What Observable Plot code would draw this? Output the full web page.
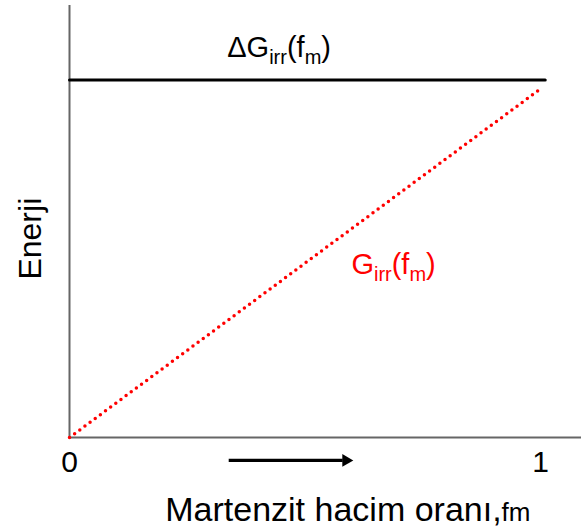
<!DOCTYPE html>
<html><head><meta charset="utf-8">
<script src="https://cdn.jsdelivr.net/npm/d3@7"></script>
<script src="https://cdn.jsdelivr.net/npm/@observablehq/plot@0.6"></script>
<style>html,body{margin:0;padding:0;background:#fff;}</style>
</head><body><div id="chart"></div>
<script>
// Data
const fm = [0, 1];                 // martensite volume fraction
const Girr = [0, 0.975];           // G_irr(f_m), red dotted
const dGfm = [0, 1.01];            // extent of ΔG_irr line
const dG = [1, 1];                 // ΔG_irr(f_m), black
const xTicks = [0, 1];
const xTickLabels = ["0", "1"];

// Annotations (data coordinates)
const noteDG = [{x: 0.445, y: 1.089, text: "ΔG_{irr}(f_{m})"}];
const noteG = [{x: 0.688, y: 0.483, text: "G_{irr}(f_{m})"}];
const xLabel = [{x: 0.591, y: -0.204, text: "Martenzit hacim oranı,~{fm}"}];
const yLabel = [{x: -0.083, y: 0.556, text: "Enerji"}];
const arrowLine = [{x1: 0.338, x2: 0.58, y: -0.064}];
const arrowHead = [{x: 0.587, y: -0.064}];

const redPts = fm.map((f, i) => ({f, v: Girr[i]}));
const blackPts = dGfm.map((f, i) => ({f, v: dG[i]}));

const svg = Plot.plot({
  width: 581,
  height: 531,
  marginLeft: 69,
  marginRight: 0,
  marginTop: 5,
  marginBottom: 94,
  style: {fontFamily: "'Liberation Sans', Arial, sans-serif", background: "#fff", color: "#000"},
  x: {domain: [0, 1.087]},
  y: {domain: [0, 1.208], axis: null},
  marks: [
    Plot.ruleX([0], {stroke: "#666", strokeWidth: 2}),
    Plot.ruleY([0], {stroke: "#666", strokeWidth: 2}),
    Plot.line(blackPts, {x: "f", y: "v", stroke: "#000", strokeWidth: 3}),
    Plot.line(redPts, {x: "f", y: "v", stroke: "#ff0000", strokeWidth: 3.5, strokeDasharray: "0 6.4", strokeLinecap: "round"}),
    Plot.axisX(xTicks, {tickSize: 0, tickPadding: 13, fontSize: 30, label: null, tickFormat: d => xTickLabels[xTicks.indexOf(d)]}),
    Plot.text(noteDG, {x: "x", y: "y", text: "text", fill: "#000", fontSize: 29, textAnchor: "middle", lineAnchor: "middle", clip: false}),
    Plot.text(noteG, {x: "x", y: "y", text: "text", fill: "#ff0000", fontSize: 29, textAnchor: "middle", lineAnchor: "middle", clip: false}),
    Plot.text(xLabel, {x: "x", y: "y", text: "text", fill: "#000", fontSize: 34, textAnchor: "middle", lineAnchor: "middle", clip: false}),
    Plot.text(yLabel, {x: "x", y: "y", text: "text", fill: "#000", fontSize: 32, rotate: -90, textAnchor: "middle", lineAnchor: "middle", clip: false}),
    Plot.link(arrowLine, {x1: "x1", x2: "x2", y1: "y", y2: "y", stroke: "#000", strokeWidth: 3.2, clip: false}),
    Plot.dot(arrowHead, {x: "x", y: "y", symbol: "triangle", rotate: 90, r: 4.7, fill: "#000", stroke: "none", clip: false})
  ]
});

// Rich text: _{...} subscript, ~{...} smaller text
d3.select(svg).selectAll("text").each(function () {
  const t = this.textContent;
  if (!/[_~]\{/.test(t)) return;
  const fs = parseFloat(this.getAttribute("font-size") || getComputedStyle(this).fontSize) || 29;
  const el = d3.select(this);
  el.text(null);
  const re = /([_~])\{([^}]*)\}/g;
  let last = 0, m, shift = 0;
  const sub = Math.round(fs * 0.69), off = Math.round(fs * 0.24);
  while ((m = re.exec(t)) !== null) {
    if (m.index > last) {
      el.append("tspan").attr("dy", -shift).text(t.slice(last, m.index));
      shift = 0;
    }
    if (m[1] === "_") {
      el.append("tspan").attr("font-size", sub).attr("dy", off - shift).text(m[2]);
      shift = off;
    } else {
      el.append("tspan").attr("font-size", Math.round(fs * 0.88)).attr("dy", -shift).text(m[2]);
      shift = 0;
    }
    last = re.lastIndex;
  }
  if (last < t.length) el.append("tspan").attr("dy", -shift).text(t.slice(last));
});

document.getElementById("chart").appendChild(svg);
</script>
</body></html>
